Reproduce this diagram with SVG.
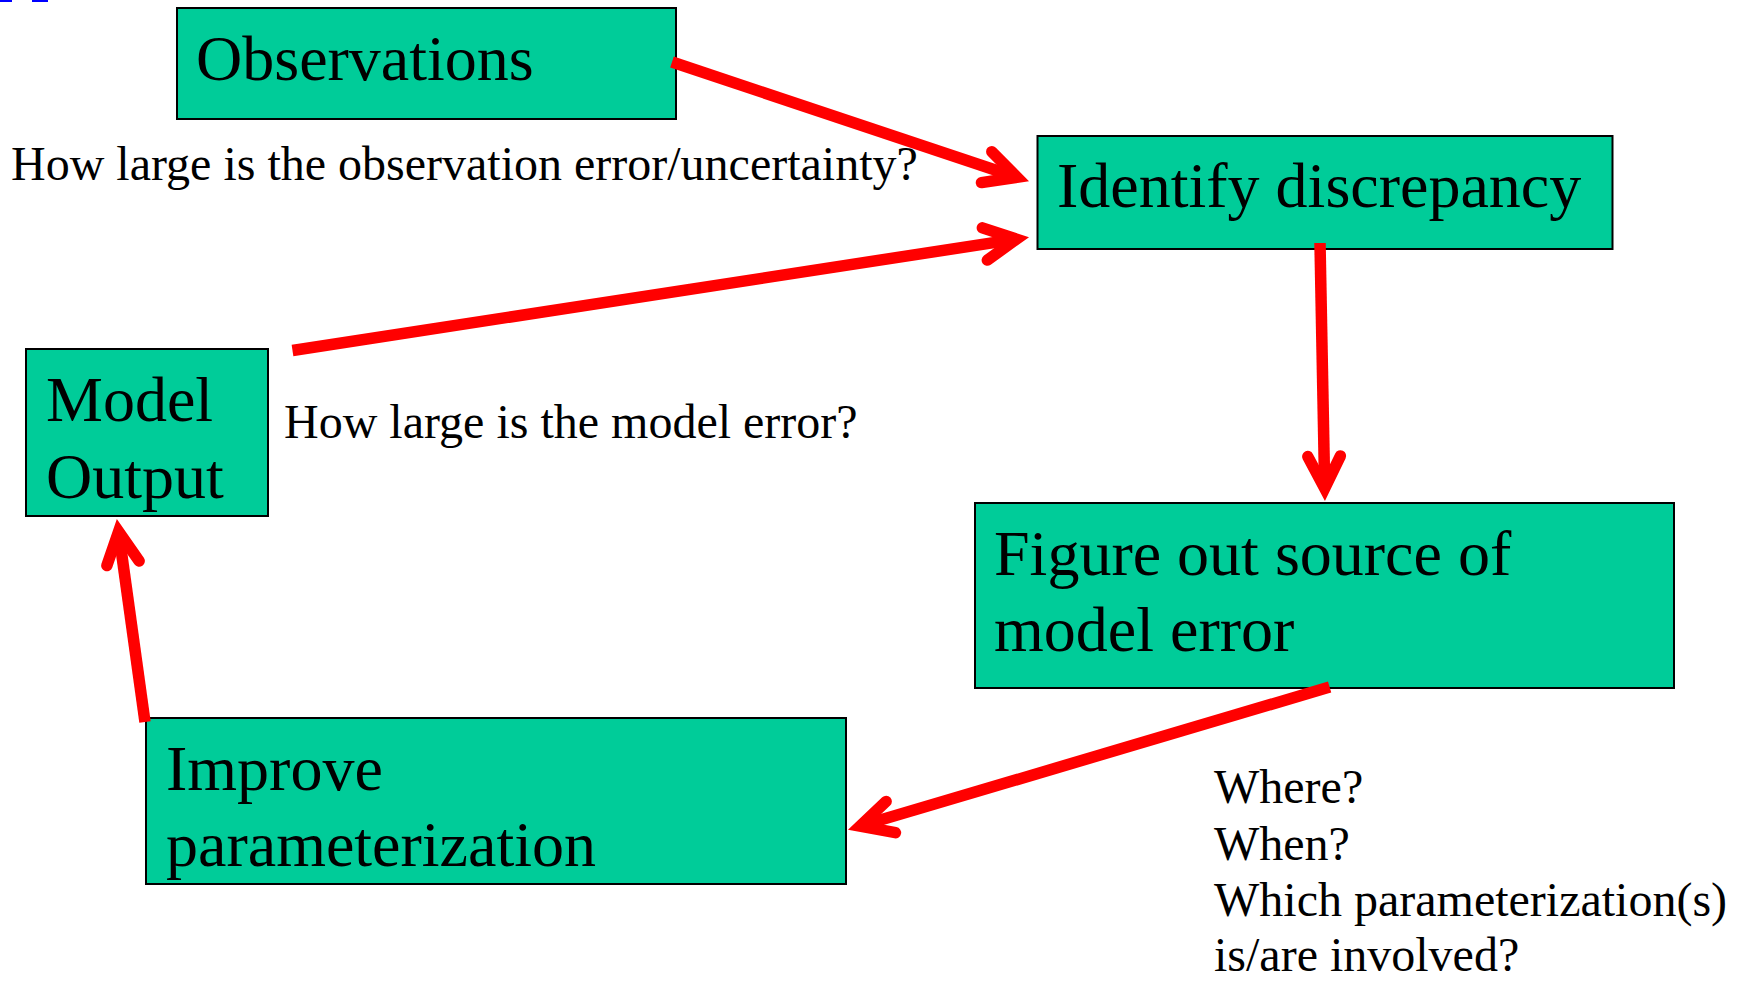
<svg xmlns="http://www.w3.org/2000/svg" width="1740" height="982" viewBox="0 0 1740 982">
<style>
.box{fill:#00CC99;stroke:#000;stroke-width:2}
.t{font-family:"Liberation Serif","Times New Roman",serif;fill:#000}
.big{font-size:64px}
.small{font-size:48px}
.shaft{stroke:#FF0000;stroke-width:11.5;fill:none;stroke-linecap:butt}
</style>
<defs>
<marker id="chev" markerUnits="userSpaceOnUse" markerWidth="80" markerHeight="80" viewBox="-50 -40 80 80" refX="0" refY="0" orient="auto" overflow="visible">
<polyline points="-32,-16.3 0,0 -32,16.3" fill="none" stroke="#FF0000" stroke-width="11.5" stroke-linecap="round" stroke-linejoin="miter" stroke-miterlimit="6"/>
</marker>
</defs>
<rect x="0" y="0" width="12" height="2" fill="#0000FF"/>
<rect x="32" y="0" width="16" height="2" fill="#0000FF"/>
<g id="observations">
<rect class="box" x="177" y="8" width="499" height="111"/>
<text class="t big" x="196" y="80">Observations</text>
</g>
<g id="identify">
<rect class="box" x="1037.5" y="136" width="575" height="113"/>
<text class="t big" x="1057" y="207">Identify discrepancy</text>
</g>
<g id="model-output">
<rect class="box" x="26" y="349" width="242" height="167"/>
<text class="t big" x="46" y="421">Model</text>
<text class="t big" x="46" y="498">Output</text>
</g>
<g id="figure-out">
<rect class="box" x="975" y="503" width="699" height="185"/>
<text class="t big" x="994" y="575">Figure out source of</text>
<text class="t big" x="994" y="651">model error</text>
</g>
<g id="improve">
<rect class="box" x="146" y="718" width="700" height="166"/>
<text class="t big" x="166" y="790">Improve</text>
<text class="t big" x="166" y="866">parameterization</text>
</g>
<g id="labels">
<text class="t small" x="11" y="180">How large is the observation error/uncertainty?</text>
<text class="t small" x="284" y="438">How large is the model error?</text>
<text class="t small" x="1214" y="803">Where?</text>
<text class="t small" x="1214" y="860">When?</text>
<text class="t small" x="1214" y="916">Which parameterization(s)</text>
<text class="t small" x="1214" y="971">is/are involved?</text>
</g>
<g id="connectors">
<line class="shaft" x1="672" y1="62" x2="1017" y2="177.3" marker-end="url(#chev)"/>
<line class="shaft" x1="292.5" y1="350.5" x2="1016.5" y2="239.1" marker-end="url(#chev)"/>
<line class="shaft" x1="1320" y1="243" x2="1324.7" y2="488.3" marker-end="url(#chev)"/>
<line class="shaft" x1="1329.6" y1="687" x2="860.1" y2="826.1" marker-end="url(#chev)"/>
<line class="shaft" x1="145" y1="722" x2="118.6" y2="531.6" marker-end="url(#chev)"/>
</g>
</svg>
